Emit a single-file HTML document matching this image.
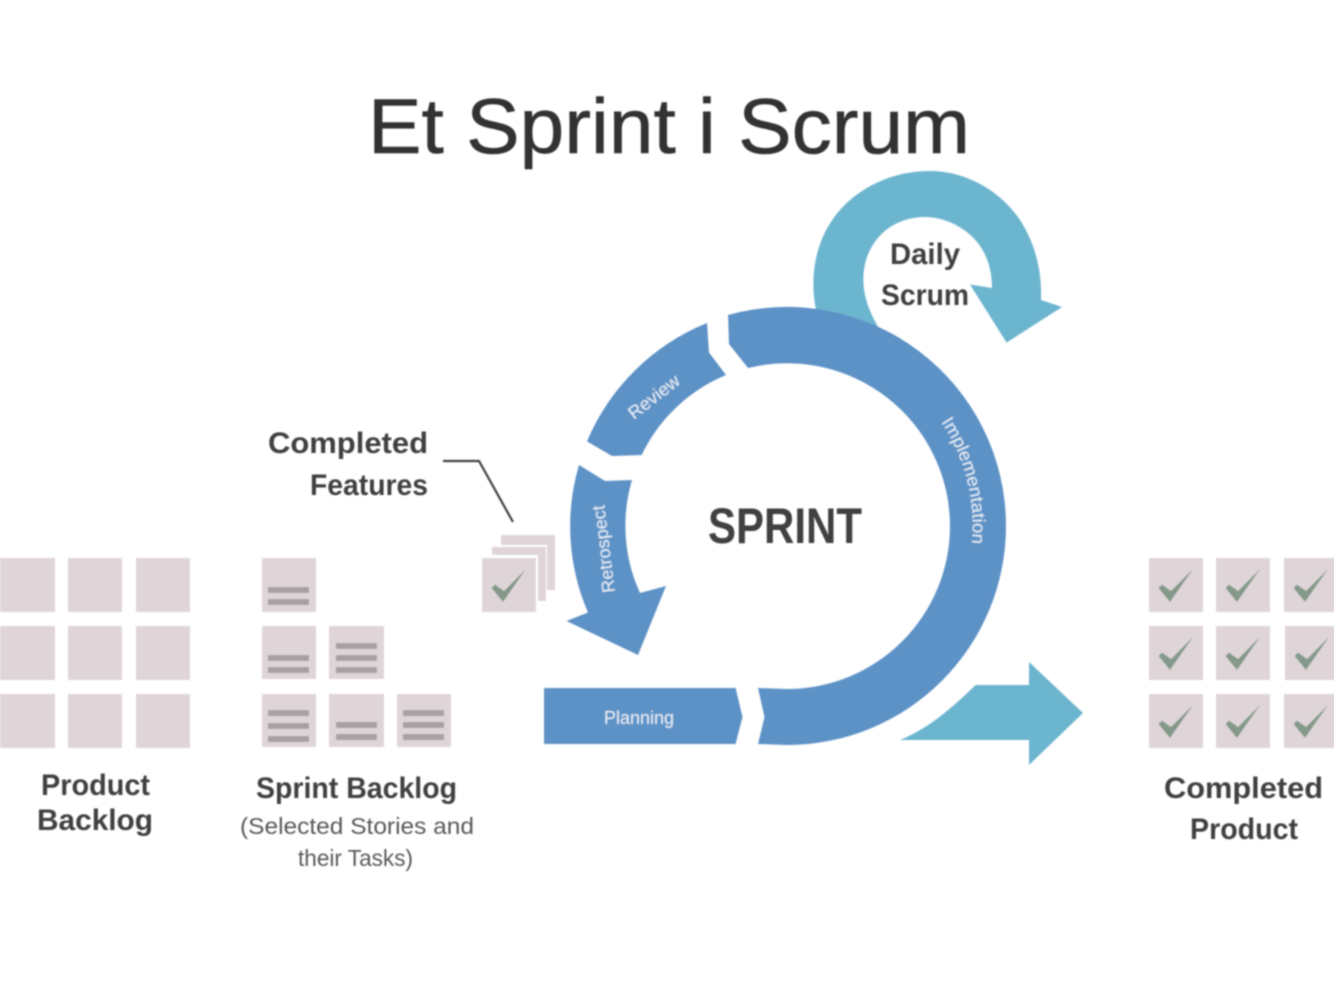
<!DOCTYPE html>
<html><head><meta charset="utf-8"><style>
html,body{margin:0;padding:0;background:#fff;width:1334px;height:1001px;overflow:hidden}
svg{display:block}
text{font-family:"Liberation Sans",sans-serif}
.b{font-weight:700;fill:#404040;font-size:30px}
.w{fill:#e4edf6;font-size:18px}
</style></head><body>
<svg width="1334" height="1001" viewBox="0 0 1334 1001" xmlns="http://www.w3.org/2000/svg">
<defs>
<filter id="s" x="-5%" y="-5%" width="110%" height="110%"><feGaussianBlur stdDeviation="0.7"/></filter>
<g id="c"><rect width="54" height="54" fill="#dfd5d9"/><path d="M9.5 30L21 44L44 11L22 33L13 26.5Z" fill="#84998a"/></g>
</defs>
<g filter="url(#s)">
<text x="368" y="153" font-size="78" fill="#333" stroke="#333" stroke-width="0.6" textLength="602" lengthAdjust="spacingAndGlyphs">Et Sprint i Scrum</text>

<!-- Product backlog -->
<g fill="#dfd5d9">
<rect x="0" y="558" width="55" height="54"/><rect x="68" y="558" width="54" height="54"/><rect x="136" y="558" width="54" height="54"/>
<rect x="0" y="626" width="55" height="54"/><rect x="68" y="626" width="54" height="54"/><rect x="136" y="626" width="54" height="54"/>
<rect x="0" y="694" width="55" height="54"/><rect x="68" y="694" width="54" height="54"/><rect x="136" y="694" width="54" height="54"/>
<!-- Sprint backlog -->
<rect x="262" y="558" width="54" height="54"/>
<rect x="262" y="626" width="54" height="53"/><rect x="329" y="626" width="55" height="53"/>
<rect x="262" y="694" width="54" height="53"/><rect x="329" y="694" width="55" height="53"/><rect x="397" y="694" width="54" height="53"/>
</g>
<g fill="#a7a1a6">
<rect x="268" y="587" width="41" height="6"/><rect x="268" y="599" width="41" height="6"/>
<rect x="268" y="655" width="41" height="6"/><rect x="268" y="667" width="41" height="6"/>
<rect x="336" y="643" width="41" height="6"/><rect x="336" y="655" width="41" height="6"/><rect x="336" y="667" width="41" height="6"/>
<rect x="268" y="710" width="41" height="6"/><rect x="268" y="723" width="41" height="6"/><rect x="268" y="736" width="41" height="6"/>
<rect x="336" y="722" width="41" height="6"/><rect x="336" y="734" width="41" height="6"/>
<rect x="403" y="710" width="41" height="6"/><rect x="403" y="722" width="41" height="6"/><rect x="403" y="734" width="41" height="6"/>
</g>

<!-- Completed features stack -->
<rect x="501" y="535" width="54" height="55" fill="#dfd5d9"/>
<rect x="490" y="545" width="57" height="58" fill="#fff"/>
<rect x="492" y="547" width="54" height="54" fill="#dfd5d9"/>
<rect x="480" y="555" width="58" height="59" fill="#fff"/>
<use href="#c" x="482" y="558"/>
<polyline points="443,461 479,461 513,522" fill="none" stroke="#404040" stroke-width="2.2"/>

<!-- Teal loop -->
<path d="M816 310C808 270 818 228 850 200C876 178 905 171 930 171C965 171 1000 190 1020 220C1036 245 1042 272 1041 300L1062 307L1006.6 342.6L970 284.5L992 288C992 265 984 246 968 233C952 220 935 217 925 217C900 217 880 230 870 250C860 270 860 298 879 328Z" fill="#6cb5cf"/>
<!-- Teal out arrow -->
<path d="M900 740C930 728 955 705 975.6 685L1029 685L1029 662L1083 713L1029 765L1029 740Z" fill="#6cb5cf"/>

<!-- Sprint cycle -->
<g fill="#5d92c6">
<path d="M728 315A219 219 0 0 1 1006 526A219 219 0 0 1 787 745L758 744L764.5 717L758 688L787 689A163 163 0 0 0 950 526A163 163 0 0 0 748 368L729 344Z"/>
<path d="M707 323L709 352.5L726 375A163 163 0 0 0 641.6 455L612 456L587 441.4A219 219 0 0 1 707 323Z"/>
<path d="M579 465L605 481L632 480A162 162 0 0 0 640 593L666 586L638 655L566.5 621L588 612.5A217 217 0 0 1 579 465Z"/>
<path d="M544 688L735.6 688L742.5 717L735.6 744L544 744Z"/>
<path id="arc" d="M941 422A186 186 0 0 1 972 542" fill="none"/>
</g>
<text class="w"><textPath href="#arc" textLength="128" lengthAdjust="spacingAndGlyphs">Implementation</textPath></text>
<text class="w" transform="translate(634 420) rotate(-38)" textLength="60" lengthAdjust="spacingAndGlyphs">Review</text>
<text class="w" transform="translate(615 592) rotate(-97)" textLength="88" lengthAdjust="spacingAndGlyphs">Retrospect</text>
<text class="w" x="604" y="724" textLength="70" lengthAdjust="spacingAndGlyphs">Planning</text>

<text x="708" y="543" font-size="50" font-weight="700" fill="#404040" textLength="154" lengthAdjust="spacingAndGlyphs">SPRINT</text>

<text class="b" x="890" y="264" textLength="70" lengthAdjust="spacingAndGlyphs">Daily</text>
<text class="b" x="881" y="305" textLength="88" lengthAdjust="spacingAndGlyphs">Scrum</text>
<text class="b" x="268" y="453" textLength="160" lengthAdjust="spacingAndGlyphs">Completed</text>
<text class="b" x="310" y="495" textLength="118" lengthAdjust="spacingAndGlyphs">Features</text>
<text class="b" x="41" y="795" textLength="109" lengthAdjust="spacingAndGlyphs">Product</text>
<text class="b" x="37" y="830" textLength="116" lengthAdjust="spacingAndGlyphs">Backlog</text>
<text class="b" x="256" y="798" textLength="201" lengthAdjust="spacingAndGlyphs">Sprint Backlog</text>
<text x="240" y="834" font-size="23" fill="#595959" textLength="234" lengthAdjust="spacingAndGlyphs">(Selected Stories and</text>
<text x="298" y="866" font-size="23" fill="#595959" textLength="115" lengthAdjust="spacingAndGlyphs">their Tasks)</text>
<text class="b" x="1164" y="798" textLength="159" lengthAdjust="spacingAndGlyphs">Completed</text>
<text class="b" x="1190" y="839" textLength="108" lengthAdjust="spacingAndGlyphs">Product</text>

<!-- Completed product -->
<use href="#c" x="1149" y="558"/><use href="#c" x="1216" y="558"/><use href="#c" x="1284" y="558"/>
<use href="#c" x="1149" y="626"/><use href="#c" x="1216" y="626"/><use href="#c" x="1285" y="626"/>
<use href="#c" x="1149" y="694"/><use href="#c" x="1216" y="694"/><use href="#c" x="1284" y="694"/>
</g>
</svg>
</body></html>
